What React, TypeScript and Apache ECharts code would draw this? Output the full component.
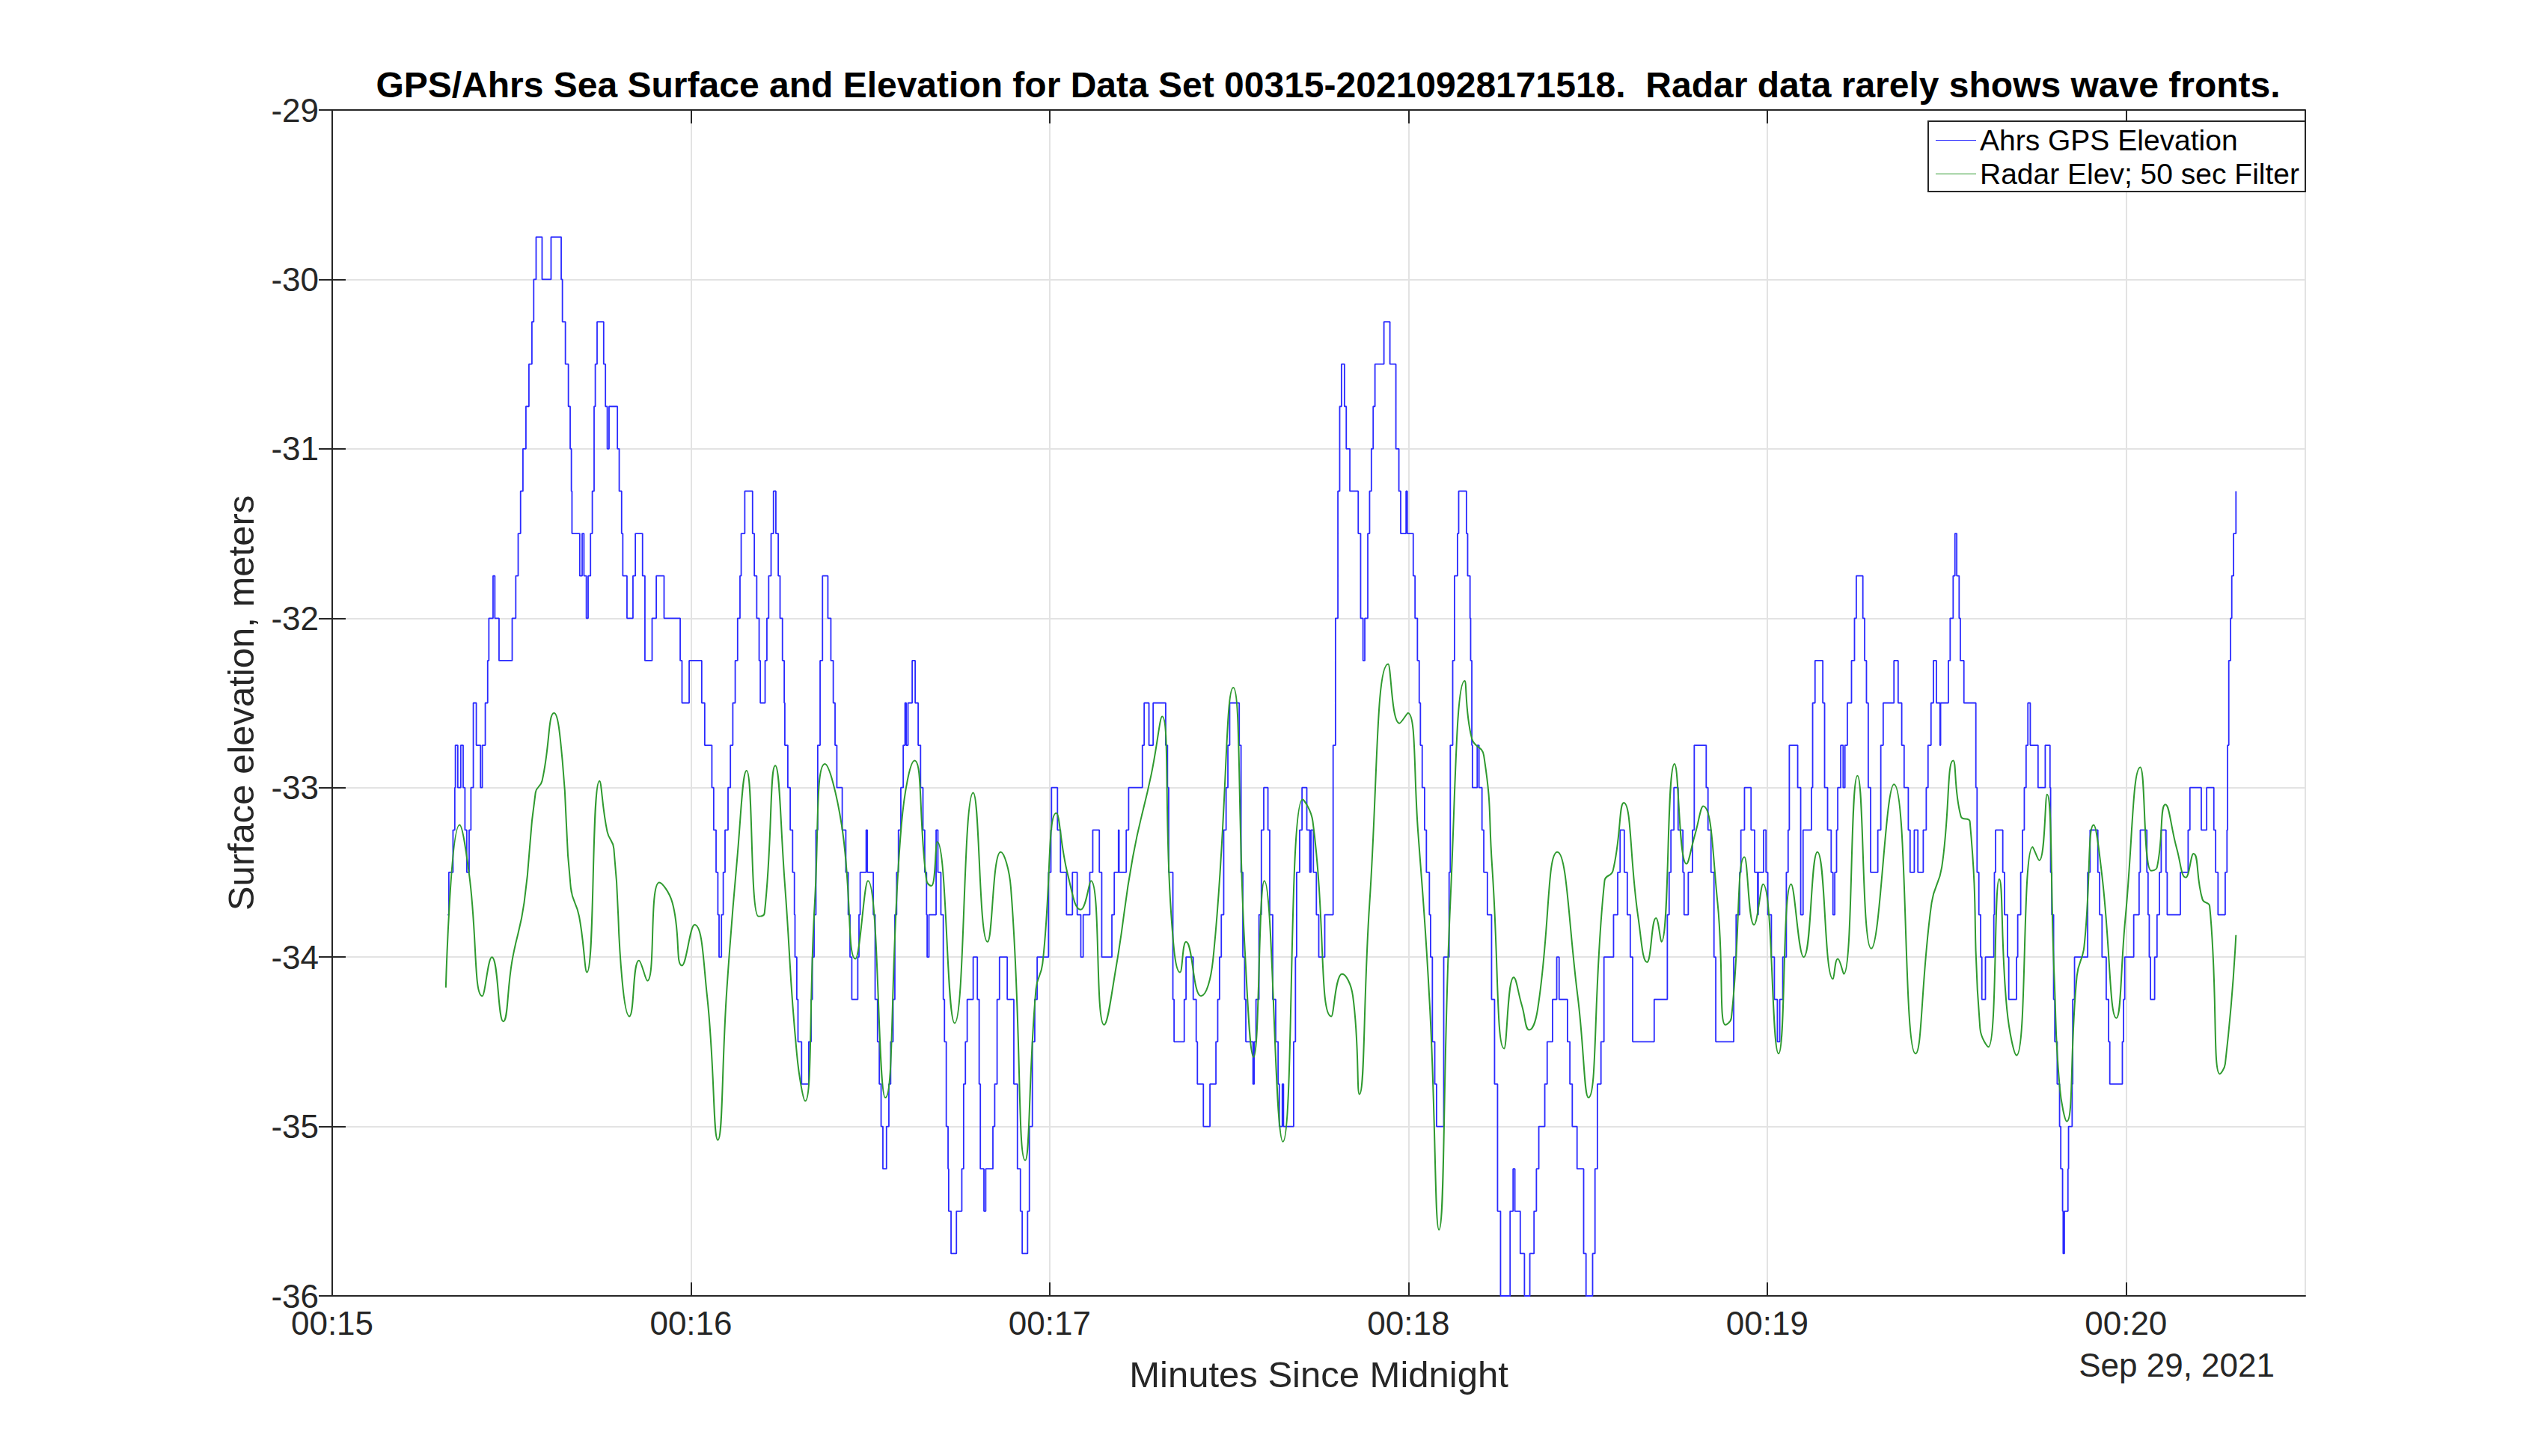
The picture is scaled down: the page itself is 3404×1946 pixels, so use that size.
import React, { useEffect, useRef } from "react";
import * as echarts from "echarts";

const TITLE = "GPS/Ahrs Sea Surface and Elevation for Data Set 00315-20210928171518.  Radar data rarely shows wave fronts.";
const X_LABEL = "Minutes Since Midnight";
const Y_LABEL = "Surface elevation, meters";
const DATE_LABEL = "Sep 29, 2021";
const SERIES_NAMES = ["Ahrs GPS Elevation", "Radar Elev; 50 sec Filter"];
// time: seconds after 00:15:00
const X_TICKS = [0, 60, 120, 180, 240, 300];

const gpsElevation: number[][] = [
[19.3,-33.75],[19.5,-33.5],[20.2,-33.25],[20.5,-33],[20.6,-32.75],[21.0,-33],[21.5,-32.75],[21.9,-33],[22.2,-33.25],[22.5,-33.5],[22.9,-33.25],[23.2,-33],[23.6,-32.5],[24.1,-32.75],[24.8,-33],[25.1,-32.75],[25.6,-32.5],[26.0,-32.25],[26.2,-32],[26.9,-31.75],[27.2,-32],[27.9,-32.25],[30.1,-32],[30.7,-31.75],[31.1,-31.5],[31.5,-31.25],[31.9,-31],[32.4,-30.75],[32.9,-30.5],[33.4,-30.25],[33.7,-30],[34.1,-29.75],[35.1,-30],[36.6,-29.75],[38.3,-30],[38.5,-30.25],[39.0,-30.5],[39.5,-30.75],[39.8,-31],[40.0,-31.25],[40.1,-31.5],[41.4,-31.75],[41.8,-31.5],[42.1,-31.75],[42.5,-32],[42.8,-31.75],[43.2,-31.5],[43.5,-31.25],[43.8,-30.75],[44.0,-30.5],[44.3,-30.25],[45.4,-30.5],[45.7,-30.75],[46.0,-31],[46.3,-30.75],[47.7,-31],[48.0,-31.25],[48.4,-31.5],[48.6,-31.75],[49.3,-32],[50.3,-31.75],[50.7,-31.5],[51.9,-31.75],[52.3,-32.25],[53.5,-32],[54.2,-31.75],[55.5,-32],[58.2,-32.25],[58.5,-32.5],[59.7,-32.25],[61.8,-32.5],[62.3,-32.75],[63.5,-33],[63.8,-33.25],[64.2,-33.5],[64.5,-33.75],[64.7,-34],[65.1,-33.75],[65.4,-33.5],[65.7,-33.25],[66.2,-33],[66.6,-32.75],[67.0,-32.5],[67.4,-32.25],[67.8,-32],[68.2,-31.75],[68.4,-31.5],[69.0,-31.25],[70.3,-31.5],[70.6,-31.75],[71.0,-32],[71.4,-32.25],[71.6,-32.5],[72.4,-32.25],[72.7,-32],[73.0,-31.75],[73.4,-31.5],[73.8,-31.25],[74.2,-31.5],[74.6,-31.75],[74.9,-32],[75.3,-32.25],[75.6,-32.5],[75.7,-32.75],[76.2,-33],[76.6,-33.25],[77.0,-33.5],[77.3,-33.75],[77.4,-34],[77.7,-34.25],[77.9,-34.5],[78.5,-34.75],[79.7,-34.5],[80.1,-34.25],[80.3,-34],[80.6,-33.75],[80.9,-33.25],[81.2,-32.75],[81.6,-32.25],[82.0,-31.75],[82.9,-32],[83.4,-32.25],[83.8,-32.5],[84.1,-32.75],[84.4,-33],[85.3,-33.25],[85.9,-33.5],[86.3,-33.75],[86.6,-34],[86.9,-34.25],[87.9,-34],[88.1,-33.75],[88.3,-33.5],[89.3,-33.25],[89.5,-33.5],[90.5,-33.75],[90.8,-34.25],[91.2,-34.5],[91.5,-34.75],[91.8,-35],[92.1,-35.25],[92.7,-35],[93.1,-34.75],[93.4,-34.5],[93.8,-34.25],[94.1,-33.75],[94.4,-33.5],[94.7,-33.25],[95.1,-33],[95.5,-32.75],[95.8,-32.5],[96.0,-32.75],[96.3,-32.5],[97.0,-32.25],[97.5,-32.5],[98.0,-32.75],[98.4,-33],[98.8,-33.25],[99.1,-33.5],[99.4,-33.75],[99.5,-34],[99.8,-33.75],[101.0,-33.25],[101.3,-33.5],[101.8,-33.75],[102.2,-34.25],[102.4,-34.5],[102.7,-35],[103.0,-35.25],[103.1,-35.5],[103.5,-35.75],[104.4,-35.5],
[105.3,-35.25],[105.6,-34.75],[105.9,-34.5],[106.2,-34.25],[107.2,-34],[107.9,-34.25],[108.2,-34.75],[108.4,-35.25],[109.0,-35.5],[109.3,-35.25],[110.5,-35],[110.8,-34.75],[111.2,-34.25],[111.6,-34],[112.9,-34.25],[114.0,-34.75],[114.6,-35.25],[115.1,-35.5],[115.4,-35.75],[116.3,-35.5],[116.6,-35],[117.1,-34.5],[117.5,-34.25],[117.9,-34],[119.8,-33.5],[120.2,-33.25],[120.3,-33],[121.3,-33.25],[121.8,-33.5],[122.8,-33.75],[123.8,-33.5],[124.6,-33.75],[125.2,-34],[125.6,-33.75],[126.7,-33.5],[127.2,-33.25],[128.3,-33.5],[128.7,-34],[130.4,-33.75],[130.8,-33.5],[131.5,-33.25],[131.6,-33.5],[132.8,-33.25],[133.2,-33],[135.5,-32.75],[135.8,-32.5],[136.6,-32.75],[137.3,-32.5],[139.4,-32.75],[139.7,-33],[139.9,-33.5],[140.6,-34.25],[140.8,-34.5],[142.5,-34.25],[142.8,-34],[144.0,-34.25],[144.5,-34.5],[144.7,-34.75],[145.7,-35],[146.8,-34.75],[147.8,-34.5],[148.1,-34.25],[148.4,-34],[148.7,-33.75],[149.1,-33.25],[149.5,-33],[149.8,-32.75],[150.1,-32.5],[151.7,-32.75],[152.0,-33.5],[152.3,-34],[152.6,-34.25],[152.8,-34.5],[154.0,-34.75],[154.2,-34.5],[154.5,-34.25],[155.0,-33.75],[155.4,-33.25],[155.8,-33],[156.5,-33.25],[156.8,-33.75],[157.3,-34.25],[157.8,-34.5],[158.2,-34.75],[158.4,-35],[158.9,-34.75],[159.1,-35],[160.8,-34.5],[161.1,-34],[161.3,-33.5],[161.8,-33.25],[162.2,-33],[163.0,-33.25],[163.5,-33.5],[163.7,-33.25],[164.1,-33.5],[164.6,-33.75],[165.0,-34],[166.0,-33.75],[167.4,-32.75],[167.8,-32],[168.2,-31.25],[168.5,-30.75],[168.8,-30.5],[169.3,-30.75],[169.6,-31],[170.2,-31.25],[171.6,-31.5],[172.0,-32],[172.4,-32.25],[172.7,-32],[173.2,-31.5],[173.5,-31.25],[173.8,-31],[174.1,-30.75],[174.4,-30.5],[175.9,-30.25],[176.9,-30.5],[177.9,-31],[178.4,-31.25],[178.7,-31.5],[179.6,-31.25],[179.8,-31.5],[180.8,-31.75],[181.1,-32],[181.5,-32.25],[181.8,-32.5],[182.0,-32.75],[182.3,-33],[182.7,-33.25],[183.0,-33.5],[183.5,-33.75],[183.7,-34],[184.0,-34.5],[184.4,-34.75],[184.7,-35],
[185.9,-34],[186.8,-33.5],[187.0,-32.75],[187.4,-32.25],[187.7,-31.75],[188.2,-31.5],[188.4,-31.25],[189.7,-31.5],[189.9,-31.75],[190.3,-32],[190.4,-32.25],[190.6,-32.75],[190.7,-33],[191.5,-32.75],[191.8,-33],[192.3,-33.25],[192.6,-33.5],[193.2,-33.75],[193.9,-34.25],[194.4,-34.75],[194.9,-35.5],[195.4,-36],[197.0,-35.5],[197.5,-35.25],[197.8,-35.5],[198.7,-35.75],[199.4,-36],[200.3,-35.75],[201.0,-35.5],[201.4,-35.25],[201.8,-35],[202.8,-34.75],[203.2,-34.5],[204.1,-34.25],[204.8,-34],[205.2,-34.25],[206.6,-34.5],[207.0,-34.75],[207.4,-35],[208.2,-35.25],[209.3,-35.75],[209.7,-36],[210.8,-35.75],[211.2,-35.25],[211.6,-34.75],[212.2,-34.5],[212.7,-34],[214.3,-33.75],[215.0,-33.5],[215.4,-33.25],[216.1,-33.5],[216.6,-33.75],[217.1,-34],[217.5,-34.5],[221.1,-34.25],[223.3,-33.75],[223.6,-33.5],[223.9,-33.25],[224.4,-33],[225.1,-33.25],[225.9,-33.5],[226.1,-33.75],[226.8,-33.5],[227.5,-33.25],[227.8,-32.75],[229.8,-33],[230.1,-33.25],[230.6,-33.5],[231.1,-34],[231.4,-34.5],[234.4,-34],[234.8,-33.75],[235.4,-33.5],[235.6,-33.25],[236.2,-33],[237.3,-33.25],[237.9,-33.5],[238.4,-33.75],[238.5,-33.5],[239.4,-33.25],[239.8,-33.5],[240.1,-33.75],[240.7,-34],[241.2,-34.25],[241.7,-34.5],[242.1,-34.25],[242.6,-34],[243.2,-33.5],[243.5,-33.25],[243.7,-32.75],[245.1,-33],[245.6,-33.75],[246.0,-33.25],[247.4,-33],[247.6,-32.5],[248.0,-32.25],[249.3,-32.5],[249.6,-33],[250.1,-33.25],[250.7,-33.5],[251.0,-33.75],[251.3,-33.5],[251.6,-33.25],[251.8,-33],[252.3,-32.75],[252.7,-33],[253.0,-32.75],[253.4,-32.5],[254.1,-32.25],[254.6,-32],[254.9,-31.75],[256.0,-32],[256.3,-32.25],[256.6,-32.5],[256.9,-33],[257.3,-33.5],[258.5,-33.25],[259.0,-32.75],[259.4,-32.5],[261.2,-32.25],[261.9,-32.5],[262.5,-32.75],[262.9,-33],[263.6,-33.25],[263.9,-33.5],[264.6,-33.25],[265.2,-33.5],[266.1,-33.25],[266.6,-33],[266.9,-32.75],[267.4,-32.5],[267.8,-32.25],[268.3,-32.5],[268.9,-32.75],[269.0,-32.5],[270.3,-32.25],[270.6,-32],[271.1,-31.75],[271.4,-31.5],[271.7,-31.75],[272.1,-32],[272.3,-32.25],
[272.9,-32.5],[274.9,-33],[275.1,-33.5],[275.4,-33.75],[275.7,-34],[275.9,-34.25],[276.5,-34],[277.9,-33.75],[278.0,-33.5],[278.2,-33.25],[279.4,-33.5],[279.7,-33.75],[280.2,-34],[280.4,-34.25],[281.7,-34],[281.9,-33.75],[282.4,-33.5],[282.7,-33.25],[283.0,-33],[283.3,-32.75],[283.6,-32.5],[284.0,-32.75],[285.3,-33],[286.5,-32.75],[287.3,-33],[287.4,-33.5],[287.6,-33.75],[287.9,-34.25],[288.1,-34.5],[288.5,-34.75],[288.9,-35],[289.1,-35.25],[289.4,-35.5],[289.5,-35.75],[289.7,-35.5],[290.3,-35.25],[290.4,-35],[291.0,-34.75],[291.1,-34.25],[291.4,-34],[293.6,-33.5],[294.0,-33.25],[295.3,-33.5],[295.6,-33.75],[296.0,-34],[296.7,-34.25],[297.1,-34.5],[297.3,-34.75],[299.4,-34.5],[299.6,-34.25],[299.8,-34],[301.3,-33.75],[302.2,-33.5],[302.4,-33.25],[303.5,-33.5],[303.7,-33.75],[303.9,-34],[304.1,-34.25],[304.8,-34],[305.2,-33.75],[305.6,-33.5],[305.9,-33.25],[306.7,-33.5],[306.9,-33.75],[309.1,-33.5],[310.4,-33.25],[310.7,-33],[312.6,-33.25],[313.5,-33],[314.7,-33.25],[315.0,-33.5],[315.4,-33.75],[316.6,-33.5],[316.9,-33.25],[317.0,-32.75],[317.2,-32.25],[317.5,-32],[317.7,-31.75],[318.0,-31.5],[318.4,-31.25]
];

const radarElevation: number[][] = [
[19.0,-34.18],[21.3,-33.22],[22.9,-33.51],[25.1,-34.23],[26.7,-34.0],[28.6,-34.38],[30.1,-34.02],[32.1,-33.68],[34.0,-33.03],[35.1,-32.96],[37.1,-32.56],[38.5,-32.84],[39.9,-33.59],[41.3,-33.76],[42.6,-34.09],[44.7,-32.96],[46.0,-33.26],[47.1,-33.36],[48.5,-34.14],[49.7,-34.35],[51.3,-34.02],[52.7,-34.14],[54.7,-33.56],[56.9,-33.68],[58.5,-34.05],[60.6,-33.81],[62.7,-34.23],[64.5,-35.08],[66.0,-34.19],[67.7,-33.43],[69.3,-32.90],[71.3,-33.76],[72.3,-33.74],[74.1,-32.87],[75.7,-33.57],[77.7,-34.57],[79.1,-34.85],[80.7,-33.68],[82.4,-32.86],[85.2,-33.22],[87.5,-34.01],[89.6,-33.55],[92.5,-34.83],[95.2,-33.22],[97.4,-32.84],[99.4,-33.55],[100.2,-33.58],[101.2,-33.32],
[104.1,-34.39],[107.2,-33.03],[109.6,-33.91],[111.8,-33.38],[113.5,-33.59],[115.9,-35.20],[117.7,-34.19],[118.8,-34.04],[121.1,-33.15],[123.0,-33.51],[125.2,-33.72],[126.9,-33.55],[129.1,-34.40],[131.1,-34.06],[133.9,-33.41],[137.0,-32.92],[138.8,-32.58],[140.3,-33.74],[141.8,-34.09],[142.8,-33.91],[145.3,-34.23],[147.3,-34.02],[150.7,-32.41],[152.6,-33.93],[154.1,-34.59],[155.9,-33.55],[159.0,-35.09],[162.3,-33.07],[164.0,-33.20],[167.1,-34.35],[168.9,-34.10],[170.7,-34.23],[171.8,-34.81],[173.5,-33.68],[176.6,-32.27],[178.5,-32.62],[179.9,-32.56],[181.6,-33.26],[183.6,-34.31],[185.1,-35.61],
[187.0,-33.68],[189.4,-32.37],[190.6,-32.71],[192.6,-32.81],[194.0,-33.47],[196.0,-34.54],[197.6,-34.12],[199.0,-34.29],[200.2,-34.43],[201.6,-34.31],[204.9,-33.38],[208.3,-34.23],[210.1,-34.83],[212.8,-33.55],[214.2,-33.49],[216.0,-33.09],[218.4,-33.76],[219.9,-34.03],[221.4,-33.77],[222.3,-33.91],[224.5,-32.86],[226.5,-33.45],[227.9,-33.28],[229.3,-33.11],[231.7,-33.68],[233.0,-34.40],[234.0,-34.36],[236.2,-33.41],[237.8,-33.81],[239.3,-33.57],[241.9,-34.57],[244.0,-33.57],[246.1,-34.00],[248.4,-33.38],[251.0,-34.13],[251.8,-34.01],[252.8,-34.10],[255.1,-32.93],[257.4,-33.95],[261.2,-32.98],[264.8,-34.57],[267.5,-33.68],[269.2,-33.47],[271.1,-32.84],[272.4,-33.17],
[273.9,-33.20],[275.6,-34.42],[277.0,-34.53],[278.8,-33.54],[280.1,-34.31],[281.7,-34.58],[284.4,-33.35],[285.5,-33.43],[286.8,-33.04],[288.0,-34.11],[288.9,-34.76],[290.1,-34.97],[291.8,-34.11],[293.0,-33.94],[294.6,-33.22],[296.0,-33.52],[298.4,-34.36],[299.9,-33.77],[302.4,-32.88],[304.2,-33.49],[305.2,-33.47],[306.6,-33.10],[308.5,-33.36],[310.0,-33.53],[311.3,-33.39],[312.8,-33.66],[314.0,-33.70],[315.7,-34.69],[316.6,-34.63],[318.4,-33.87]
];

const FONT = "'Liberation Sans', Arial, Helvetica, sans-serif";
const AX = "#262626";

export default function App() {
  const ref = useRef<HTMLDivElement>(null);
  useEffect(() => {
    const chart = echarts.init(ref.current!, null, { renderer: "svg" });
    const fmt = (v: number) => {
      const m = 15 + Math.round(v / 60);
      return X_TICKS.includes(Math.round(v)) ? "00:" + String(m).padStart(2, "0") : "";
    };
    chart.setOption({
      animation: false,
      backgroundColor: "#ffffff",
      textStyle: { fontFamily: FONT },
      title: {
        text: TITLE, left: 1770, top: 84, textAlign: "center",
        textStyle: { fontSize: 48, fontWeight: "bold", color: "#000", fontFamily: FONT },
      },
      legend: {
        orient: "vertical", right: 3404 - 3081, top: 162,
        backgroundColor: "#fff", borderColor: AX, borderWidth: 2, borderRadius: 0,
        padding: [6, 8, 4, 10], itemGap: 6, itemWidth: 54, itemHeight: 20,
        icon: "path://M0,10L54,10L54,11L0,11Z",
        textStyle: { fontSize: 39, color: "#000", fontFamily: FONT },
        data: SERIES_NAMES,
      },
      grid: { left: 444, right: 3404 - 3081, top: 147, bottom: 1946 - 1732 },
      xAxis: [
        {
          type: "value", min: 0, max: 330, interval: 60,
          axisLine: { lineStyle: { color: AX, width: 2 } },
          axisTick: { inside: true, length: 18, lineStyle: { color: AX, width: 2 } },
          axisLabel: { formatter: fmt, fontSize: 44, color: "#262626", margin: 14, fontFamily: FONT, showMaxLabel: false },
          splitLine: { show: true, lineStyle: { color: "#e3e3e3", width: 2 } },
          name: X_LABEL, nameLocation: "middle", nameGap: 80,
          nameTextStyle: { fontSize: 49, color: "#262626", fontFamily: FONT },
        },
        {
          type: "value", min: 0, max: 330, interval: 60, position: "top",
          axisLine: { lineStyle: { color: AX, width: 2 } },
          axisTick: { inside: true, length: 18, lineStyle: { color: AX, width: 2 } },
          axisLabel: { show: false }, splitLine: { show: false },
        },
      ],
      yAxis: [
        {
          type: "value", min: -36, max: -29, interval: 1,
          axisLine: { show: true, lineStyle: { color: AX, width: 2 } },
          axisTick: { show: true, inside: true, length: 18, lineStyle: { color: AX, width: 2 } },
          axisLabel: { fontSize: 44, color: "#262626", margin: 18, fontFamily: FONT },
          splitLine: { show: true, lineStyle: { color: "#e3e3e3", width: 2 } },
          name: Y_LABEL, nameLocation: "middle", nameGap: 98, nameRotate: 90,
          nameTextStyle: { fontSize: 49, color: "#262626", fontFamily: FONT },
        },
        {
          type: "value", min: -36, max: -29, interval: 1, position: "right",
          axisLine: { show: true, lineStyle: { color: AX, width: 2 } },
          axisTick: { show: true, inside: true, length: 18, lineStyle: { color: AX, width: 2 } },
          axisLabel: { show: false }, splitLine: { show: false },
        },
      ],
      graphic: [
        {
          type: "text", right: 3404 - 3040, top: 1802,
          style: { text: DATE_LABEL, fontSize: 44, fill: "#262626", font: `44px ${FONT}` },
        },
      ],
      series: [
        {
          name: SERIES_NAMES[0], type: "line", step: "end", data: gpsElevation,
          showSymbol: false, clip: true, color: "#2a2aff",
          lineStyle: { width: 1.8, color: "#2a2aff" },
        },
        {
          name: SERIES_NAMES[1], type: "line", smooth: 0.5, data: radarElevation,
          showSymbol: false, clip: true, color: "#2f9a2f",
          lineStyle: { width: 2, color: "#2f9a2f" },
        },
      ],
    });
    return () => chart.dispose();
  }, []);
  return <div ref={ref} style={{ position: "fixed", left: 0, top: 0, width: 3404, height: 1946 }} />;
}
